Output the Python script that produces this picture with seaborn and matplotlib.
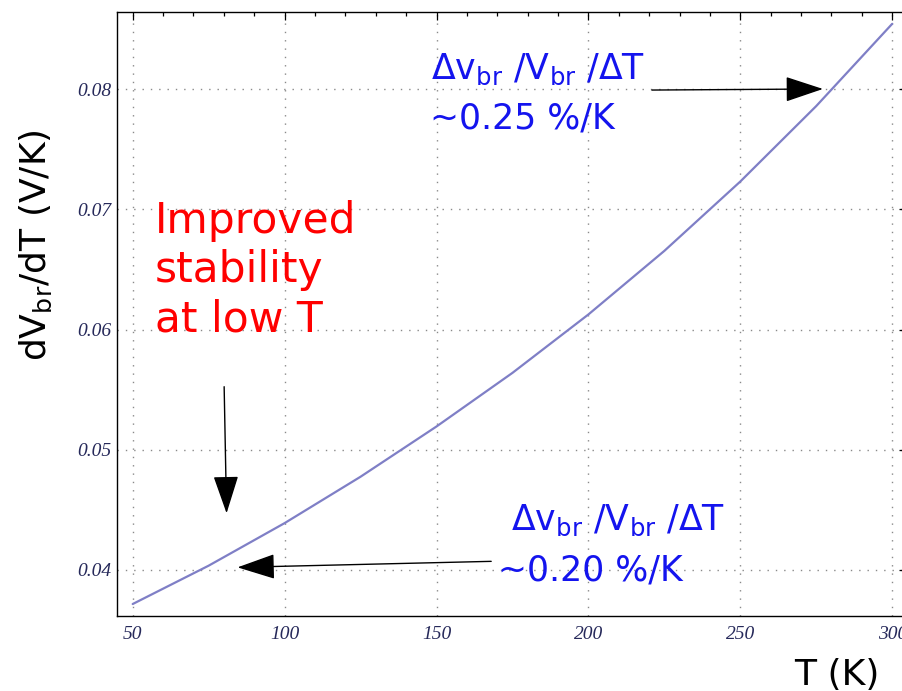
import matplotlib
matplotlib.use("Agg")
import matplotlib.pyplot as plt
import numpy as np
import pandas as pd
import seaborn as sns
from matplotlib.ticker import FixedLocator, MultipleLocator

# ---- data ----
temperature_K = [50, 75, 100, 125, 150, 175, 200, 225, 250, 275, 300]
dvbr_dT = [0.03717, 0.04036, 0.0439, 0.04776, 0.05194, 0.0564, 0.06126,
           0.06655, 0.07232, 0.0786, 0.08544]

x_ticks = [50, 100, 150, 200, 250, 300]
x_tick_labels = ["50", "100", "150", "200", "250", "300"]
y_ticks = [0.04, 0.05, 0.06, 0.07, 0.08]
y_tick_labels = ["0.04", "0.05", "0.06", "0.07", "0.08"]

sns.set_theme(style="white")
plt.rcParams["font.family"] = ["DejaVu Sans"]
plt.rcParams["mathtext.fontset"] = "dejavusans"

W, H = 903, 691
fig = plt.figure(figsize=(W / 100, H / 100), dpi=100)
fig.patch.set_facecolor("white")

def px(x, y):
    return x / W, 1 - y / H

left, right, top, bottom = 117.3, 907.4, 11.7, 616.0
ax = fig.add_axes([left / W, 1 - bottom / H, (right - left) / W, (bottom - top) / H])
ax.set_facecolor("white")

df = pd.DataFrame({"T": temperature_K, "dV": dvbr_dT})
sns.lineplot(data=df, x="T", y="dV", ax=ax, color="#7f7fc6", linewidth=1.6)

ax.set_xlim(44.93, 305)
ax.set_ylim(0.036173, 0.086448)

ax.xaxis.set_major_locator(FixedLocator(x_ticks))
ax.yaxis.set_major_locator(FixedLocator(y_ticks))
ax.xaxis.set_minor_locator(MultipleLocator(10))
ax.yaxis.set_minor_locator(MultipleLocator(0.002))
ax.set_xticklabels(x_tick_labels)
ax.set_yticklabels(y_tick_labels)

tick_color = "#26295a"
for lab in ax.get_xticklabels() + ax.get_yticklabels():
    lab.set_fontfamily("Liberation Serif")
    lab.set_fontstyle("italic")
    lab.set_fontsize(14)
    lab.set_color(tick_color)

ax.tick_params(which="both", direction="in", top=True, right=True, color="black")
ax.tick_params(which="major", length=6, width=0.9)
ax.tick_params(which="minor", length=3, width=0.9)
ax.tick_params(axis="x", which="major", pad=7)
ax.tick_params(axis="y", which="major", pad=4)

ax.grid(True, which="major", linestyle=(0, (1, 5)), color="#8a8a8a", linewidth=1.0)
ax.set_axisbelow(True)
for s in ax.spines.values():
    s.set_color("black")
    s.set_linewidth(1.0)
    s.set_visible(True)

ax.set_xlabel("")
ax.set_ylabel("")

# axis titles
fig.text(*px(36, 245), r"dV$_{\mathrm{br}}$/dT (V/K)", rotation=90, fontsize=26,
         ha="center", va="center", color="black")
fig.text(*px(880, 685.5), "T (K)", ha="right", va="baseline", fontsize=26, color="black")

# annotations
fig.text(*px(155, 200), "Improved\nstability\nat low T", color="#ff0000", fontsize=30.5,
         linespacing=1.22, ha="left", va="top")

blue = "#1414ee"
ratio_txt = r"$\Delta$v$_{\mathrm{br}}$ /V$_{\mathrm{br}}$ /$\Delta$T"
fig.text(*px(431, 79), ratio_txt, color=blue, fontsize=25, ha="left", va="baseline")
fig.text(*px(430, 129), "~0.25 %/K", color=blue, fontsize=25, ha="left", va="baseline")
fig.text(*px(511, 530), ratio_txt, color=blue, fontsize=25, ha="left", va="baseline")
fig.text(*px(498, 580), "~0.20 %/K", color=blue, fontsize=25, ha="left", va="baseline")

arrow_kw = dict(arrowstyle="-|>,head_length=1.2,head_width=0.4", mutation_scale=20,
                color="black", lw=1.0, shrinkA=0, shrinkB=0)
ax.annotate("", xy=(277.2, 0.08002), xytext=(220.9, 0.07993), arrowprops=arrow_kw)
ax.annotate("", xy=(84.5, 0.04022), xytext=(168.0, 0.04072), arrowprops=arrow_kw)
ax.annotate("", xy=(80.9, 0.04472), xytext=(80.1, 0.05525), arrowprops=arrow_kw)

fig.savefig("out.png", dpi=100, facecolor="white")
